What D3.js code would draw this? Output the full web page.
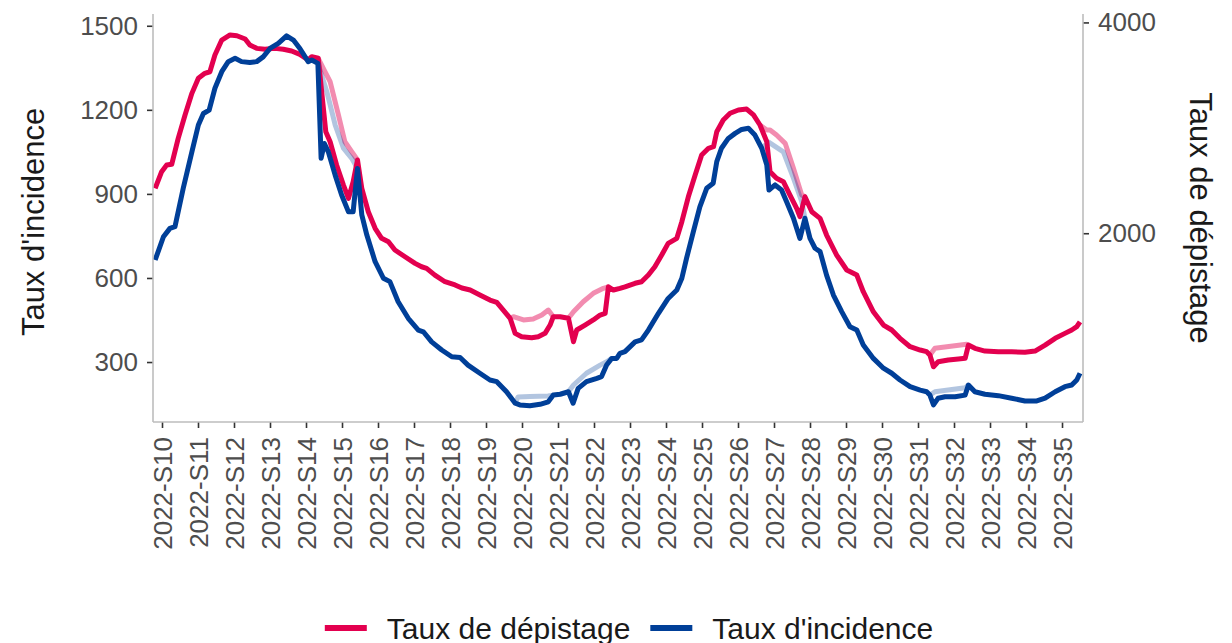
<!DOCTYPE html>
<html>
<head>
<meta charset="utf-8">
<script src="https://cdn.jsdelivr.net/npm/d3@7"></script>
<style>
  html, body { margin: 0; padding: 0; background: #fff; }
  svg { display: block; font-family: "Liberation Sans", Arial, sans-serif; }
</style>
</head>
<body>
<svg id="chart" width="1232" height="643"></svg>
<script>
// ---- data (week number as decimal, value) ----
const weekTicks = d3.range(10, 36);
const weekLabels = weekTicks.map(w => "2022-S" + w);
const leftTicks = [300, 600, 900, 1200, 1500];
const rightTicks = [2000, 4000];
const seriesNames = ["Taux de dépistage", "Taux d'incidence"];

// Taux de dépistage (right axis units)
const depistage = [[9.81,2426],[9.99,2584],[10.13,2647],[10.27,2654],[10.45,2900],[10.64,3122],[10.83,3327],[11.01,3470],[11.19,3517],[11.33,3532],[11.47,3691],[11.66,3833],[11.89,3881],[12.08,3874],[12.31,3843],[12.44,3786],[12.63,3754],[12.86,3745],[13.14,3754],[13.37,3745],[13.60,3729],[13.83,3697],[14.06,3643],[14.16,3675],[14.34,3660],[14.55,2963],[14.67,2868],[14.85,2647],[15.04,2457],[15.18,2331],[15.31,2489],[15.43,2695],[15.55,2426],[15.73,2204],[15.92,2047],[16.10,1952],[16.29,1919],[16.47,1841],[16.75,1777],[17.03,1714],[17.21,1682],[17.35,1667],[17.58,1603],[17.86,1540],[18.14,1509],[18.33,1480],[18.56,1461],[18.83,1414],[19.11,1366],[19.30,1344],[19.48,1271],[19.67,1193],[19.81,1050],[19.99,1018],[20.27,1009],[20.45,1018],[20.64,1050],[20.78,1129],[20.87,1208],[21.06,1208],[21.29,1193],[21.43,971],[21.52,1082],[21.75,1129],[21.98,1177],[22.17,1224],[22.31,1240],[22.40,1492],[22.54,1461],[22.72,1477],[22.86,1492],[23.14,1525],[23.32,1540],[23.51,1603],[23.69,1682],[23.88,1793],[24.06,1904],[24.30,1952],[24.44,2109],[24.62,2346],[24.81,2552],[24.99,2742],[25.18,2806],[25.32,2821],[25.41,2963],[25.59,3074],[25.78,3138],[26.01,3169],[26.24,3178],[26.43,3122],[26.61,3027],[26.80,2868],[26.89,2584],[27.07,2521],[27.26,2489],[27.44,2363],[27.63,2236],[27.72,2157],[27.86,2346],[28.05,2204],[28.28,2141],[28.46,1983],[28.74,1793],[29.02,1651],[29.30,1603],[29.48,1445],[29.76,1255],[30.04,1129],[30.27,1082],[30.50,1003],[30.78,923],[31.06,892],[31.24,876],[31.33,844],[31.43,733],[31.56,781],[31.84,797],[32.12,806],[32.31,813],[32.40,939],[32.58,908],[32.86,882],[33.23,876],[33.60,876],[33.97,870],[34.25,882],[34.53,939],[34.81,1003],[35.08,1050],[35.27,1082],[35.41,1113],[35.50,1160]];

// Taux d'incidence (left axis units)
const incidence = [[9.81,664],[10.04,747],[10.22,777],[10.36,783],[10.59,920],[10.83,1050],[11.01,1146],[11.15,1187],[11.31,1199],[11.47,1277],[11.66,1336],[11.84,1372],[12.03,1384],[12.21,1372],[12.44,1369],[12.63,1372],[12.81,1389],[13.00,1419],[13.23,1437],[13.46,1464],[13.65,1449],[13.83,1419],[14.06,1372],[14.16,1378],[14.33,1366],[14.42,1027],[14.51,1080],[14.62,1050],[14.81,967],[14.99,896],[15.18,836],[15.31,836],[15.43,991],[15.55,825],[15.69,753],[15.92,658],[16.15,599],[16.33,587],[16.56,515],[16.84,456],[17.12,414],[17.26,408],[17.49,372],[17.77,343],[18.05,319],[18.28,316],[18.50,289],[18.83,260],[19.11,236],[19.30,230],[19.57,194],[19.81,153],[19.94,147],[20.22,144],[20.50,149],[20.73,158],[20.87,182],[21.06,185],[21.29,194],[21.42,153],[21.56,206],[21.79,230],[22.08,242],[22.21,248],[22.35,289],[22.49,313],[22.63,313],[22.72,331],[22.86,337],[23.14,372],[23.32,379],[23.51,414],[23.79,474],[24.06,527],[24.30,557],[24.44,599],[24.57,670],[24.76,765],[24.94,854],[25.13,920],[25.31,938],[25.41,1015],[25.54,1063],[25.73,1098],[25.92,1116],[26.10,1130],[26.29,1134],[26.47,1110],[26.66,1063],[26.80,1003],[26.86,914],[27.03,932],[27.21,914],[27.35,872],[27.54,813],[27.72,741],[27.86,813],[28.00,741],[28.14,706],[28.28,694],[28.46,610],[28.65,539],[28.88,480],[29.11,426],[29.30,414],[29.48,361],[29.76,313],[30.04,278],[30.27,260],[30.50,236],[30.78,212],[31.06,200],[31.24,194],[31.33,182],[31.43,147],[31.56,171],[31.75,176],[32.03,176],[32.31,182],[32.40,218],[32.58,194],[32.86,185],[33.23,180],[33.60,171],[33.97,161],[34.30,161],[34.53,171],[34.81,194],[35.08,212],[35.27,218],[35.41,236],[35.50,260]];

// Earlier (faded) versions of the series, by segment
const depistageFaded = [
  [[14.34,3660],[14.53,3532],[14.67,3438],[14.90,3122],[15.08,2868],[15.27,2773],[15.43,2695]],
  [[19.67,1193],[19.76,1208],[20.04,1177],[20.31,1186],[20.55,1224],[20.73,1271],[20.87,1208]],
  [[21.29,1193],[21.43,1255],[21.70,1350],[21.98,1430],[22.26,1477],[22.40,1492]],
  [[26.61,3027],[26.80,2979],[26.89,2979],[27.07,2932],[27.31,2853],[27.54,2616],[27.77,2363],[27.86,2346]],
  [[31.33,844],[31.47,908],[32.35,946],[32.40,939]]
];
const incidenceFaded = [
  [[14.33,1366],[14.58,1264],[14.81,1146],[15.04,1063],[15.27,1027],[15.43,991]],
  [[19.81,153],[19.89,175],[20.22,177],[20.72,179],[20.87,182]],
  [[21.29,194],[21.43,218],[21.79,260],[22.17,289],[22.35,301],[22.49,313]],
  [[26.66,1063],[26.85,1085],[27.26,1050],[27.54,956],[27.77,872],[27.86,813]],
  [[31.33,182],[31.47,194],[32.31,208],[32.40,218]]
];

// ---- drawing ----
const pink = "#e3004f", blue = "#003f98";
const svg = d3.select("#chart");
const panel = {left: 153, right: 1083, top: 14, bottom: 422};

const x = d3.scaleLinear().domain([9.75, 35.583]).range([panel.left, panel.right]);
const yL = d3.scaleLinear().domain([86, 1542]).range([panel.bottom, panel.top]);
const yR = d3.scaleLinear().domain([209, 4080]).range([panel.bottom, panel.top]);

const lineL = d3.line().x(d => x(d[0])).y(d => yL(d[1])).curve(d3.curveLinear);
const lineR = d3.line().x(d => x(d[0])).y(d => yR(d[1])).curve(d3.curveLinear);

const g = svg.append("g");
const lw = 5;

// faded lines
depistageFaded.forEach(seg => g.append("path").attr("d", lineR(seg))
  .attr("fill", "none").attr("stroke", pink).attr("stroke-opacity", 0.45)
  .attr("stroke-width", lw).attr("stroke-linejoin", "round"));
incidenceFaded.forEach(seg => g.append("path").attr("d", lineL(seg))
  .attr("fill", "none").attr("stroke", blue).attr("stroke-opacity", 0.3)
  .attr("stroke-width", lw).attr("stroke-linejoin", "round"));

// main lines
g.append("path").attr("d", lineR(depistage)).attr("fill", "none")
  .attr("stroke", pink).attr("stroke-width", lw).attr("stroke-linejoin", "round");
g.append("path").attr("d", lineL(incidence)).attr("fill", "none")
  .attr("stroke", blue).attr("stroke-width", lw).attr("stroke-linejoin", "round");

// axes
const axisColor = "#bdbdbd", tickColor = "#333", labelColor = "#4d4d4d";
function styleAxis(sel) {
  sel.select(".domain").remove();
  sel.selectAll(".tick line").attr("stroke", tickColor).attr("stroke-width", 1.6);
  sel.selectAll(".tick text").attr("fill", labelColor).style("font-size", "26px")
    .style("font-family", "'Liberation Sans', Arial, sans-serif");
}

svg.append("g").attr("transform", `translate(${panel.left},0)`)
  .call(d3.axisLeft(yL).tickValues(leftTicks).tickSize(6).tickPadding(9).tickFormat(d3.format("d")))
  .call(styleAxis);

svg.append("g").attr("transform", `translate(${panel.right},0)`)
  .call(d3.axisRight(yR).tickValues(rightTicks).tickSize(6).tickPadding(9).tickFormat(d3.format("d")))
  .call(styleAxis);

const xAxis = svg.append("g").attr("transform", `translate(0,${panel.bottom})`)
  .call(d3.axisBottom(x).tickValues(weekTicks).tickSize(6).tickFormat((d, i) => weekLabels[i]))
  .call(styleAxis);
xAxis.selectAll(".tick text")
  .attr("transform", "rotate(-90)").attr("x", -15).attr("y", 0).attr("dy", "0.36em")
  .style("text-anchor", "end");

// axis lines
svg.append("line").attr("x1", panel.left).attr("x2", panel.left).attr("y1", panel.top).attr("y2", panel.bottom)
  .attr("stroke", axisColor).attr("stroke-width", 1.6);
svg.append("line").attr("x1", panel.right).attr("x2", panel.right).attr("y1", panel.top).attr("y2", panel.bottom)
  .attr("stroke", axisColor).attr("stroke-width", 1.6);
svg.append("line").attr("x1", panel.left).attr("x2", panel.right).attr("y1", panel.bottom).attr("y2", panel.bottom)
  .attr("stroke", axisColor).attr("stroke-width", 1.6);

// axis titles
const midY = (panel.top + panel.bottom) / 2;
svg.append("text").attr("transform", `translate(44,${midY + 4}) rotate(-90)`)
  .attr("text-anchor", "middle").style("font-size", "31px").attr("fill", "#1a1a1a")
  .text("Taux d'incidence");
svg.append("text").attr("transform", `translate(1190,${midY}) rotate(90)`)
  .attr("text-anchor", "middle").style("font-size", "31px").attr("fill", "#1a1a1a")
  .text("Taux de dépistage");

// legend
const legend = svg.append("g");
const legY = 628;
const colors = [pink, blue];
let cx = 0;
seriesNames.forEach((name, i) => {
  const it = legend.append("g").attr("transform", `translate(${cx},0)`);
  it.append("line").attr("x1", 0).attr("x2", 42).attr("y1", legY).attr("y2", legY)
    .attr("stroke", colors[i]).attr("stroke-width", 6);
  const t = it.append("text").attr("x", 62).attr("y", legY).attr("dy", "0.35em")
    .style("font-size", "30px").attr("fill", "#1a1a1a").text(name);
  const w = 62 + t.node().getComputedTextLength();
  cx += w + 20;
});
const totalW = cx - 20;
legend.attr("transform", `translate(${629 - totalW / 2},0)`);
</script>
</body>
</html>
